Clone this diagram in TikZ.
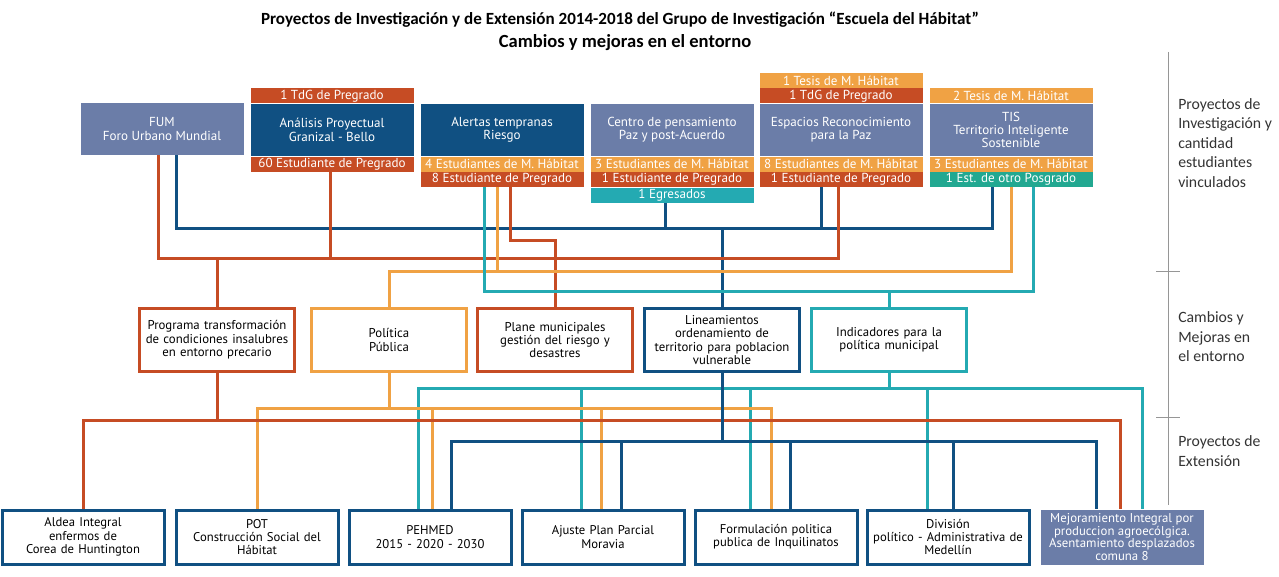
\documentclass[tikz,border=0pt]{standalone}
\usepackage{fontspec}
\setmainfont{Carlito}
\newfontfamily\boxfont{PT Sans}
\usepackage{tikz}
\definecolor{colorSL}{RGB}{107,125,168}
\definecolor{colorNV}{RGB}{16,80,130}
\definecolor{colorRD}{RGB}{198,76,36}
\definecolor{colorOR}{RGB}{240,162,68}
\definecolor{colorTL}{RGB}{36,170,178}
\definecolor{colorGT}{RGB}{34,168,145}
\definecolor{colorAX}{RGB}{150,150,150}
\usetikzlibrary{calc}
\usetikzlibrary{positioning}
\usetikzlibrary{backgrounds}
\tikzset{
   redln/.style={color=colorRD,line width=2.25pt},
   orgln/.style={color=colorOR,line width=2.25pt},
   tealln/.style={color=colorTL,line width=2.25pt},
   navyln/.style={color=colorNV,line width=2.25pt},
   scaleln/.style={color=colorAX,line width=0.75pt},
   proj/.style={fill=#1,text=white,minimum width=122.25pt,minimum height=39pt,inner sep=0pt,align=center,font=\boxfont\fontsize{9.8}{10}\selectfont},
   band/.style={fill=#1,text=white,minimum width=122.25pt,minimum height=11.25pt,inner sep=0pt,font=\boxfont\fontsize{9.8}{10}\selectfont},
   change/.style={draw=#1,line width=2.25pt,fill=white,minimum width=116pt,minimum height=47.25pt,text width=114pt,inner sep=0pt,align=center,font=\boxfont\fontsize{9.6}{10}\selectfont},
   ext/.style={draw=colorNV,line width=2.25pt,fill=white,minimum width=121.5pt,minimum height=40.5pt,text width=120pt,inner sep=0pt,align=center,font=\boxfont\fontsize{9.5}{10}\selectfont},
   side/.style={anchor=west,align=left,inner sep=0pt,text=black!80,font=\fontsize{11.8}{14.6}\selectfont},
}

\begin{document}
\begin{tikzpicture}[x=0.75pt,y=-0.75pt]
        \useasboundingbox (0,0) rectangle (1279,577);

        \node[font=\bfseries\fontsize{12.8}{14}\selectfont] (title) at (620,20) {Proyectos de Investigación y de Extensión 2014-2018 del Grupo de Investigación “Escuela del Hábitat”};
        \node[font=\bfseries\fontsize{13.9}{15}\selectfont] (subtitle) at (625,43) {Cambios y mejoras en el entorno};

        % research projects
        \node[proj=colorSL] (fum) at (162,129) {FUM\\Foro Urbano Mundial};

        \node[proj=colorNV] (anal) at (332,130) {Análisis Proyectual\\Granizal - Bello};
        \node[band=colorRD,above=0pt of anal] (analA) {1 TdG de Pregrado};
        \node[band=colorRD,below=0pt of anal] (analB) {60 Estudiante de Pregrado};

        \node[proj=colorNV] (alert) at (502,130) {Alertas tempranas\\Riesgo};
        \node[band=colorOR,below=0pt of alert] (alertB) {4 Estudiantes de M. Hábitat};
        \node[band=colorRD,below=0pt of alertB] (alertC) {8 Estudiante de Pregrado};

        \node[proj=colorSL] (centro) at (672,130) {Centro de pensamiento\\Paz y post-Acuerdo};
        \node[band=colorOR,below=0pt of centro] (centroB) {3 Estudiantes de M. Hábitat};
        \node[band=colorRD,below=0pt of centroB] (centroC) {1 Estudiante de Pregrado};
        \node[band=colorTL,below=0pt of centroC] (centroD) {1 Egresados};

        \node[proj=colorSL] (espac) at (841,130) {Espacios Reconocimiento\\para la Paz};
        \node[band=colorRD,above=0pt of espac] (espacA) {1 TdG de Pregrado};
        \node[band=colorOR,above=0pt of espacA] (espacT) {1 Tesis de M. Hábitat};
        \node[band=colorOR,below=0pt of espac] (espacB) {8 Estudiantes de M. Hábitat};
        \node[band=colorRD,below=0pt of espacB] (espacC) {1 Estudiante de Pregrado};

        \node[proj=colorSL] (tis) at (1011,130) {TIS\\Territorio Inteligente\\Sostenible};
        \node[band=colorOR,above=0pt of tis] (tisA) {2 Tesis de M. Hábitat};
        \node[band=colorOR,below=0pt of tis] (tisB) {3 Estudiantes de M. Hábitat};
        \node[band=colorGT,below=0pt of tisB] (tisC) {1 Est. de otro Posgrado};

        % changes
        \node[change=colorRD] (prog) at (217,340) {Programa transformación\\de condiciones insalubres\\en entorno precario};
        \node[change=colorOR] (polit) at (389,340) {Política\\Pública};
        \node[change=colorRD] (plane) at (555,340) {Plane municipales\\gestión del riesgo y\\desastres};
        \node[change=colorNV] (linea) at (722,340) {Lineamientos\\ordenamiento de\\territorio para poblacion\\vulnerable};
        \node[change=colorTL] (indic) at (889,340) {Indicadores para la\\política municipal};

        % extension projects
        \node[ext] (aldea) at (83,537) {Aldea Integral\\enfermos de\\Corea de Huntington};
        \node[ext] (pot) at (257,537) {POT\\Construcción Social del\\Hábitat};
        \node[ext] (pehmed) at (430,537) {PEHMED\\2015 - 2020 - 2030};
        \node[ext] (ajuste) at (603,537) {Ajuste Plan Parcial\\Moravia};
        \node[ext] (formu) at (776,537) {Formulación politica\\publica de Inquilinatos};
        \node[ext] (divis) at (948,537) {División\\político - Administrativa de\\Medellín};
        \node[proj=colorSL,minimum height=41.25pt,font=\boxfont\fontsize{9.6}{9.6}\selectfont] (mejor) at (1122,537) {Mejoramiento Integral por\\produccion agroecólgica.\\Asentamiento desplazados\\comuna 8};

        % bus levels
        \coordinate (busNV) at (0,229);
        \coordinate (busRDa) at (0,241);
        \coordinate (busRD) at (0,259);
        \coordinate (busOR) at (0,272);
        \coordinate (busTL) at (0,292);
        \coordinate (lowTL) at (0,389);
        \coordinate (lowOR) at (0,409);
        \coordinate (lowRD) at (0,421);
        \coordinate (lowNV) at (0,442);

        % attachment points
        \coordinate (fumR) at ([xshift=-3pt]fum.south);
        \coordinate (fumN) at ([xshift=10.5pt]fum.south);
        \coordinate (analR) at ([xshift=-1.5pt]analB.south);
        \coordinate (alertT) at ([xshift=-13.5pt]alertC.south);
        \coordinate (alertO) at ([xshift=-3.4pt]alertC.south);
        \coordinate (alertR) at ([xshift=6.4pt]alertC.south);
        \coordinate (centroN) at ([xshift=-5pt]centroD.south);
        \coordinate (espacN) at ([xshift=-14.6pt]espacC.south);
        \coordinate (espacR) at ([xshift=-1.9pt]espacC.south);
        \coordinate (tisN) at ([xshift=-13.9pt]tisC.south);
        \coordinate (tisO) at (tisC.south);
        \coordinate (tisT) at ([xshift=16.9pt]tisC.south);

        \coordinate (pehT) at ([xshift=-9pt]pehmed.north);
        \coordinate (pehO) at ([xshift=1.5pt]pehmed.north);
        \coordinate (pehN) at ([xshift=15.75pt]pehmed.north);
        \coordinate (ajuT) at ([xshift=-16.5pt]ajuste.north);
        \coordinate (ajuO) at ([xshift=-1.5pt]ajuste.north);
        \coordinate (ajuN) at ([xshift=13.5pt]ajuste.north);
        \coordinate (forT) at ([xshift=-19.5pt]formu.north);
        \coordinate (forO) at ([xshift=-3.75pt]formu.north);
        \coordinate (forN) at ([xshift=10.5pt]formu.north);
        \coordinate (divT) at ([xshift=-15.75pt]divis.north);
        \coordinate (divN) at ([xshift=3.75pt]divis.north);
        \coordinate (mejN) at ([xshift=-19.5pt]mejor.north);
        \coordinate (mejR) at ([xshift=-1.5pt]mejor.north);
        \coordinate (mejT) at ([xshift=15pt]mejor.north);

        \begin{scope}[on background layer]
        % research -> changes
        \draw[navyln] (fumN) |- (tisN |- busNV) -- (tisN);
        \draw[navyln] (centroN) -- (centroN |- busNV);
        \draw[navyln] (espacN) -- (espacN |- busNV);
        \draw[navyln] (linea.north) -- (linea.north |- busNV);

        \draw[redln] (fumR) |- (espacR |- busRD) -- (espacR);
        \draw[redln] (analR) -- (analR |- busRD);
        \draw[redln] (prog.north) -- (prog.north |- busRD);
        \draw[redln] (alertR) |- (plane.north |- busRDa) -- (plane.north);

        \draw[orgln] (polit.north) |- (tisO |- busOR) -- (tisO);
        \draw[orgln] (alertO) -- (alertO |- busOR);

        \draw[tealln] (alertT) |- (tisT |- busTL) -- (tisT);
        \draw[tealln] (indic.north) -- (indic.north |- busTL);

        % changes -> extension
        \draw[tealln] (pehT) |- (mejT |- lowTL) -- (mejT);
        \draw[tealln] (ajuT) -- (ajuT |- lowTL);
        \draw[tealln] (forT) -- (forT |- lowTL);
        \draw[tealln] (divT) -- (divT |- lowTL);
        \draw[tealln] (indic.south) -- (indic.south |- lowTL);

        \draw[orgln] (pot.north) |- (forO |- lowOR) -- (forO);
        \draw[orgln] (pehO) -- (pehO |- lowOR);
        \draw[orgln] (ajuO) -- (ajuO |- lowOR);
        \draw[orgln] (polit.south) -- (polit.south |- lowOR);

        \draw[redln] (aldea.north) |- (mejR |- lowRD) -- (mejR);
        \draw[redln] (prog.south) -- (prog.south |- lowRD);

        \draw[navyln] (pehN) |- (mejN |- lowNV) -- (mejN);
        \draw[navyln] (ajuN) -- (ajuN |- lowNV);
        \draw[navyln] (forN) -- (forN |- lowNV);
        \draw[navyln] (divN) -- (divN |- lowNV);
        \draw[navyln] (linea.south) -- (linea.south |- lowNV);
        \end{scope}

        % level scale on the right
        \coordinate (axtop) at (1168,52);
        \coordinate (axbot) at (1168,505);
        \draw[scaleln] (axtop) -- (axbot);
        \draw[scaleln] (1156,272) -- (1180,272);
        \draw[scaleln] (1156,418) -- (1180,418);

        \node[side] (lblA) at (1178,143) {Proyectos de\\Investigación y\\cantidad\\estudiantes\\vinculados};
        \node[side] (lblB) at (1178,337) {Cambios y\\Mejoras en\\el entorno};
        \node[side] (lblC) at (1178,451) {Proyectos de\\Extensión};

      \end{tikzpicture}
\end{document}
